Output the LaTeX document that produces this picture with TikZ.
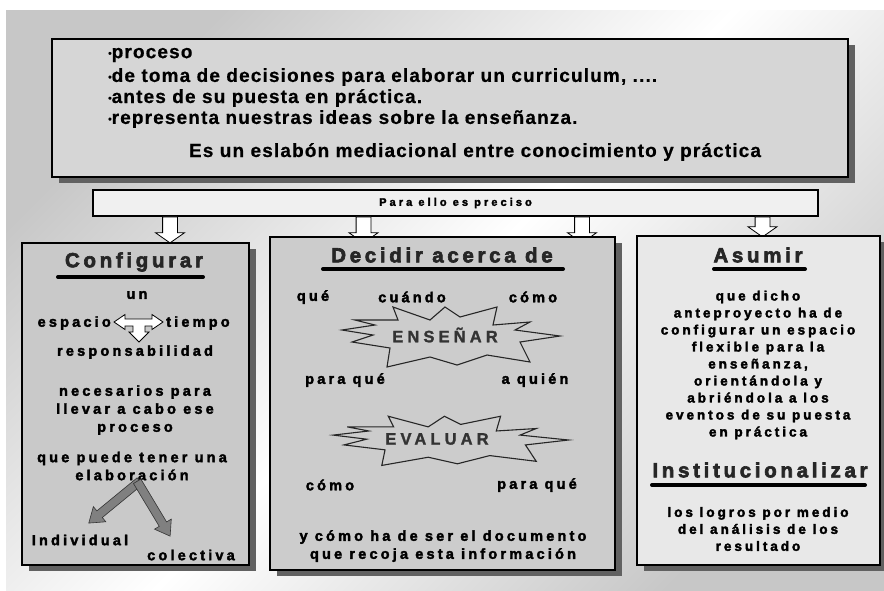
\documentclass[tikz,border=0pt]{standalone}
\usepackage{fontspec}
\setmainfont{Liberation Sans}
\newfontfamily\listfont[FakeBold=0.6,LetterSpace=6]{Liberation Sans}
\newfontfamily\headfont[FakeBold=3,LetterSpace=18]{Liberation Sans}
\newfontfamily\bodyfont[FakeBold=2.5,LetterSpace=22]{Liberation Sans}
\newfontfamily\barfont[FakeBold=2.5,LetterSpace=28]{Liberation Sans}
\newfontfamily\burstfont[FakeBold=1.5,LetterSpace=25]{Liberation Sans}
\usetikzlibrary{positioning, shapes.arrows, shadows}

\definecolor{bgdark}{gray}{0.78}
\definecolor{topfill}{gray}{0.84}
\definecolor{barfill}{gray}{0.94}
\definecolor{leftfill}{gray}{0.79}
\definecolor{midfill}{gray}{0.80}
\definecolor{rightfill}{gray}{0.91}
\definecolor{shadowgray}{gray}{0.38}
\definecolor{arrowgray}{gray}{0.50}

\newcommand{\bul}{{\fontsize{10}{10}\selectfont\raisebox{1.5pt}{\textbullet}}}
\newcommand{\burstpath}{(-59,-29) -- (-22,-16) -- (-7,-29) -- (8,-19) -- (45,-29) -- (41,-11) -- (78,-14) -- (63,-6) -- (108,0) -- (68,6) -- (78,26) -- (35,19) -- (5,29) -- (-22,21) -- (-65,31) -- (-62,12) -- (-100,6) -- (-79,-1) -- (-110,-6) -- (-77,-11) -- (-97,-16) -- (-54,-16) -- cycle}

\begin{document}
\begin{tikzpicture}[x=1pt, y=-1pt,
    panel/.style={draw=black, line width=1.4pt, inner sep=0pt,
      general shadow={fill=shadowgray, shadow xshift=7pt, shadow yshift=-6pt}},
    listtext/.style={font=\listfont\bfseries\fontsize{19}{22}\selectfont, inner sep=0pt},
    heading/.style={font=\headfont\bfseries\fontsize{20.5}{24}\selectfont, text=black!85, inner sep=0pt},
    body/.style={font=\bodyfont\bfseries\fontsize{14.5}{18}\selectfont, align=center, inner sep=0pt},
    smallbody/.style={font=\bodyfont\bfseries\fontsize{13.5}{17}\selectfont, align=center, inner sep=0pt},
    bursttext/.style={font=\burstfont\bfseries\fontsize{16.5}{18}\selectfont, text=black!80, inner sep=0pt},
    rule/.style={line width=4pt, line cap=round},
    hollowarrow/.style={single arrow, draw=black, fill=white, line width=0.8pt, inner sep=7pt,
      single arrow head extend=7pt, single arrow tip angle=110, shape border rotate=270},
    grayarrow/.style={single arrow, draw=black!80, fill=arrowgray, line width=0.6pt, inner sep=4pt,
      single arrow head extend=5.5pt, single arrow tip angle=70},
    burst/.style={draw=black!85, line width=1.1pt, line join=miter}]

  \useasboundingbox (0,0) rectangle (884,590);
  % background
  \shade[top color=bgdark, bottom color=bgdark, middle color=white, shading angle=45] (6,10) rectangle (884,590);

  % top box
  \node[panel, fill=topfill, minimum width=796pt, minimum height=138pt] (intro) at (450,108) {};
  \node[listtext, anchor=west] (proceso) at (108,55) {\bul proceso};
  \node[listtext, anchor=west] (decisiones) at (108,77) {\bul de toma de decisiones para elaborar un curriculum, ....};
  \node[listtext, anchor=west] (antes) at (108,98) {\bul antes de su puesta en práctica.};
  \node[listtext, anchor=west] (ideas) at (108,119) {\bul representa nuestras ideas sobre la enseñanza.};
  \node[listtext] (eslabon) at (475,152) {Es un eslabón mediacional entre conocimiento y práctica};

  % bar
  \node[draw=black, line width=1.2pt, fill=barfill, minimum width=725pt, minimum height=26pt,
    font=\barfont\bfseries\fontsize{11}{12}\selectfont] (preciso) at (455.5,203) {Para ello es preciso};

  % arrows from the bar
  \node[hollowarrow, minimum height=26pt, anchor=tail] (toconf) at (170,216.5) {};
  \node[hollowarrow, minimum height=26pt, anchor=tail] (todec1) at (363.5,216.5) {};
  \node[hollowarrow, minimum height=26pt, anchor=tail] (todec2) at (582,216.5) {};
  \node[hollowarrow, minimum height=20pt, anchor=tail] (toasum) at (762.5,216.5) {};

  % three boxes
  \node[panel, fill=leftfill, minimum width=227pt, minimum height=322pt] (configurar) at (135.5,404) {};
  \node[panel, fill=midfill, minimum width=345pt, minimum height=333pt] (decidir) at (442.5,403.5) {};
  \node[panel, fill=rightfill, minimum width=243pt, minimum height=329pt] (asumir) at (758.5,400.5) {};

  % left box
  \node[heading] (conftitle) at (134,262) {Configurar};
  \draw[rule] (58,277) -- (203,277);
  \node[body] (un) at (137,295) {un};
  \node[body, anchor=east] (espacio) at (111,323) {espacio};
  \node[body, anchor=west] (tiempo) at (166,323) {tiempo};
  \draw[fill=white, line width=0.8pt] (114,322) -- (125,314.5) -- (125,319) -- (152,319) -- (152,314.5)
    -- (163,322) -- (152,329.5) -- (152,326) -- (145,326) -- (145,332) -- (149,332) -- (139,342)
    -- (129,332) -- (133,332) -- (133,326) -- (125,326) -- (125,329.5) -- cycle;
  \node[body] (resp) at (135,352) {responsabilidad};
  \node[body] (necesarios) at (135,410) {necesarios para\\llevar a cabo ese\\proceso};
  \node[body] (elab) at (132,466) {que puede tener una\\elaboración};
  \node[grayarrow, minimum height=66pt, rotate=219.4, anchor=tail] (toindiv) at (140,481) {};
  \node[grayarrow, minimum height=64pt, rotate=-59, anchor=tail] (tocolect) at (137,481) {};
  \node[body] (indiv) at (80,540) {Individual};
  \node[body] (colect) at (191,555) {colectiva};

  % middle box
  \node[heading] (dectitle) at (442,255) {Decidir acerca de};
  \draw[rule] (323,269) -- (563,269);
  \node[body] (que) at (313,297) {qué};
  \node[body] (cuando) at (412,297) {cuándo};
  \node[body] (como) at (533,297) {cómo};
  \draw[burst, shift={(452,336)}] \burstpath;
  \node[bursttext] (ensenar) at (445,335) {ENSEÑAR};
  \node[body] (paraque) at (345,380) {para qué};
  \node[body] (aquien) at (535,380) {a quién};
  \draw[burst, shift={(452,440)}, xscale=1.08, yscale=0.82] \burstpath;
  \node[bursttext] (evaluar) at (437,439) {EVALUAR};
  \node[body] (evcomo) at (330,485) {cómo};
  \node[body] (evparaque) at (537,485) {para qué};
  \node[body] (documento) at (443,546) {y cómo ha de ser el documento\\que recoja esta información};

  % right box
  \node[heading] (asumtitle) at (758,255) {Asumir};
  \draw[rule] (714,269) -- (805,269);
  \node[smallbody] (anteproyecto) at (758,365)
    {que dicho\\anteproyecto ha de\\configurar un espacio\\flexible para la\\enseñanza,\\orientándola y\\abriéndola a los\\eventos de su puesta\\en práctica};
  \node[heading] (insttitle) at (760,470) {Institucionalizar};
  \draw[rule] (652,485) -- (865,485);
  \node[smallbody] (logros) at (758,529) {los logros por medio\\del análisis de los\\resultado};
\end{tikzpicture}
\end{document}
